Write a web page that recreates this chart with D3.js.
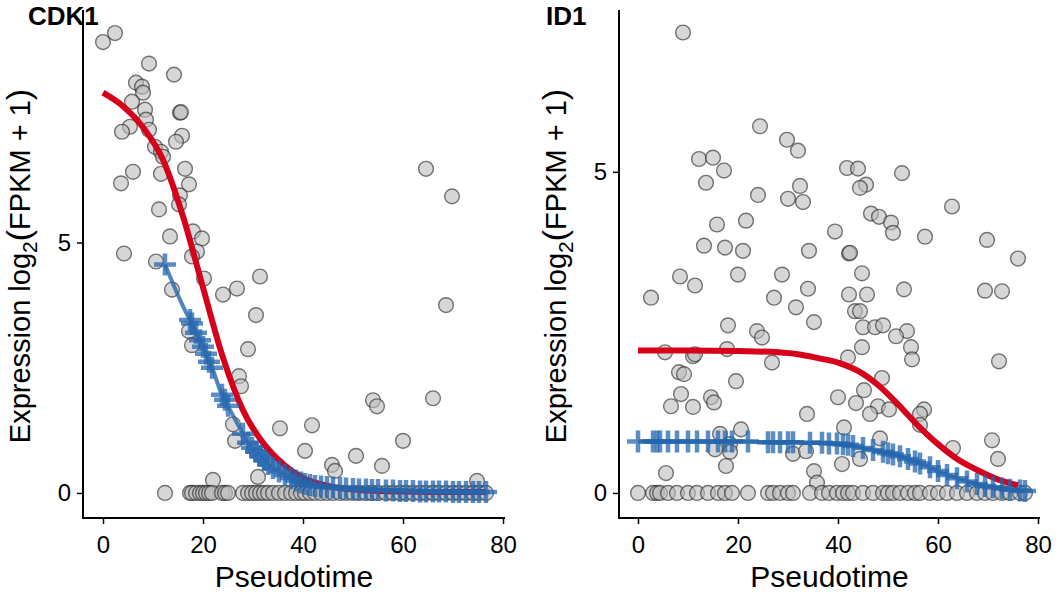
<!DOCTYPE html>
<html>
<head>
<meta charset="utf-8">
<script src="https://d3js.org/d3.v7.min.js"></script>
<style>
  body { margin: 0; background: #fff; }
  text { font-family: "Liberation Sans", Arial, sans-serif; fill: #000; }
</style>
</head>
<body>
<div id="chart"></div>
<script>
// ---- data ----
// CDK1: cells with non-zero expression [pseudotime, log2(FPKM+1)]
var cdk1Points = [[0,9.0],[2.4,9.18],[9.2,8.57],[14.2,8.35],[6.6,8.19],[7.8,8.11],[8.0,7.99],[5.8,7.81],
  [8.4,7.65],[15.4,7.59],[15.6,7.6],[8.6,7.45],[5.4,7.31],[3.8,7.21],[9.2,7.25],[15.8,7.13],[14.6,7.01],
  [10.4,6.91],[11.6,6.81],[12.0,6.71],[6.0,6.41],[16.4,6.47],[3.6,6.18],[11.6,6.37],[17.2,6.16],[15.4,5.94],
  [15.2,5.76],[11.2,5.66],[18.0,5.22],[13.4,5.12],[19.8,5.08],[18.8,4.82],[17.8,4.72],[4.2,4.78],[10.6,4.62],
  [13.8,4.06],[20.2,4.28],[24.0,3.96],[26.8,4.08],[31.4,4.32],[30.6,3.55],[29.0,2.87],[17.2,3.23],[17.8,2.95],
  [27.2,2.33],[27.6,2.13],[35.4,1.29],[26.0,1.37],[26.4,1.04],[31.0,0.32],[22.0,0.26],[41.8,1.35],[40.4,0.84],
  [45.8,0.56],[46.4,0.44],[50.6,0.74],[54.0,1.85],[54.8,1.73],[66.0,1.89],[60.0,1.04],[55.8,0.54],[74.8,0.24],
  [64.6,6.47],[69.8,5.92],[68.6,3.75]];
// CDK1: pseudotime of cells with zero expression, and the blue fitted value at each of them
var cdk1ZeroX = [12.4,17.4,17.8,18.6,19.4,20.0,20.6,21.2,21.8,23.8,24.4,25.0,28.0,29.0,29.8,30.6,31.4,32.2,33.0,
  34.0,35.2,36.4,37.6,38.6,39.6,40.4,41.4,42.4,43.6,44.8,46.0,47.4,48.6,50.0,51.2,52.6,53.8,55.0,56.6,58.0,
  59.4,60.6,62.0,63.4,64.6,66.0,67.2,68.6,70.0,71.2,72.6,74.0,75.2,76.6];
var cdk1FitY = [4.56,3.45,3.38,3.2,3.05,2.92,2.78,2.62,2.5,1.96,1.86,1.74,1.18,1.0,0.9,0.82,0.74,0.66,0.58,
  0.5,0.43,0.36,0.3,0.25,0.21,0.18,0.16,0.14,0.13,0.12,0.11,0.1,0.09,0.08,0.07,0.07,0.06,0.06,0.05,0.05,
  0.04,0.04,0.04,0.03,0.03,0.03,0.03,0.03,0.02,0.02,0.02,0.02,0.02,0.02];
// CDK1: red smooth curve
var cdk1CurveX = [0,4,8,12,16,20,24,28,32,36,40,45,50,60,70,76.6];
var cdk1CurveY = [7.99,7.72,7.3,6.65,5.52,4.1,2.7,1.65,1.0,0.58,0.3,0.14,0.07,0.03,0.02,0.02];

// ID1
var id1Points = [[9.0,7.17],[24.4,5.71],[29.8,5.5],[32.0,5.33],[12.2,5.2],[15.0,5.22],[17.2,5.02],[13.6,4.83],
  [32.4,4.78],[24.0,4.64],[30.0,4.58],[33.0,4.53],[15.8,4.18],[21.6,4.24],[13.2,3.85],[17.4,3.82],[21.0,3.77],
  [34.2,3.77],[8.4,3.37],[11.4,3.23],[20.0,3.4],[28.8,3.4],[34.0,3.18],[2.6,3.04],[27.2,3.04],[39.4,4.07],
  [41.8,5.06],[44.0,5.05],[52.8,4.98],[45.6,4.8],[44.4,4.75],[62.8,4.46],[46.6,4.35],[48.2,4.3],[50.6,4.21],
  [51.0,4.05],[57.4,3.99],[69.8,3.94],[42.2,3.73],[42.4,3.74],[76.0,3.65],[44.8,3.42],[42.2,3.09],[45.8,3.09],
  [53.2,3.17],[69.4,3.15],[72.8,3.14],[31.6,2.89],[35.2,2.66],[18.0,2.61],[23.8,2.52],[24.8,2.42],[5.4,2.19],
  [11.0,2.13],[11.4,2.16],[17.8,2.24],[26.8,2.03],[8.2,1.88],[9.2,1.85],[19.6,1.74],[8.6,1.54],[14.6,1.49],
  [15.2,1.41],[6.6,1.35],[11.0,1.34],[33.8,1.23],[20.6,0.99],[16.4,0.92],[18.4,0.76],[15.4,0.68],[18.4,0.64],
  [31.0,0.61],[33.6,0.65],[17.6,0.42],[5.6,0.31],[35.2,0.34],[35.8,0.16],[43.4,2.83],[44.4,2.83],[45.0,2.58],
  [47.4,2.58],[49.0,2.61],[53.8,2.52],[51.6,2.44],[54.6,2.27],[54.8,2.08],[44.8,2.27],[42.0,2.11],[72.2,2.05],
  [48.8,1.79],[45.2,1.6],[40.0,1.49],[43.6,1.4],[48.0,1.35],[46.4,1.23],[50.2,1.3],[57.2,1.3],[56.4,1.23],
  [56.4,1.06],[41.2,1.02],[48.4,0.85],[70.8,0.82],[63.0,0.7],[72.0,0.53],[44.4,0.53],[40.8,0.45]];
var id1ZeroX = [0,3,3.8,4.4,6,7.8,10,11.8,14,16,17.4,18.8,22,26,27,28.4,30,31,34.4,36.8,38.2,39.8,41,42,43,45,
  47,49,50,51,52.4,54,55.4,56.4,58.4,60,61.8,63.8,65.8,67.8,69.4,71,72.8,74.4,76.4,77.4];
var id1FitY = [0.8,0.8,0.8,0.8,0.8,0.8,0.8,0.8,0.8,0.8,0.8,0.8,0.8,0.79,0.79,0.79,0.79,0.79,0.78,0.78,0.77,0.77,
  0.76,0.75,0.73,0.7,0.67,0.64,0.62,0.6,0.57,0.53,0.49,0.46,0.4,0.34,0.28,0.23,0.18,0.14,0.11,0.09,0.07,0.05,0.04,0.03];
var id1CurveX = [0,10,20,28,32,36,40,44,48,52,56,60,64,68,72,76];
var id1CurveY = [2.22,2.22,2.21,2.19,2.16,2.1,2.03,1.9,1.68,1.38,1.05,0.76,0.52,0.35,0.21,0.12];

var xTicks = [0, 20, 40, 60, 80];
var yTicks = [0, 5];

var svg = d3.select("#chart").append("svg")
  .attr("width", 1062).attr("height", 594);

function drawPanel(p) {
  var x = d3.scaleLinear().domain(p.xDomain).range([p.left, p.right]);
  var y = d3.scaleLinear().domain(p.yDomain).range([p.bottom, p.top]);
  var g = svg.append("g");

  // grey cells (non-zero and zero)
  var cells = p.points.concat(p.zeroX.map(function(v) { return [v, 0]; }));
  g.append("g").selectAll("circle").data(cells).enter().append("circle")
    .attr("cx", function(d) { return x(d[0]); })
    .attr("cy", function(d) { return y(d[1]); })
    .attr("r", 7.4)
    .style("fill", "#bcbcbc").style("fill-opacity", 0.6)
    .style("stroke", "#222").style("stroke-opacity", 0.6).style("stroke-width", 1.4);

  // red curve
  var line = d3.line().x(function(d) { return x(d[0]); }).y(function(d) { return y(d[1]); })
    .curve(d3.curveMonotoneX);
  g.append("path").datum(p.curveX.map(function(v, i) { return [v, p.curveY[i]]; }))
    .attr("d", line).style("fill", "none").style("stroke", "#d7001b").style("stroke-width", 6);

  // blue fitted line with crosses
  var fit = p.zeroX.map(function(v, i) { return [v, p.fitY[i]]; });
  var blue = g.append("g");
  blue.append("path").datum(fit).attr("d", line)
    .style("fill", "none").style("stroke", "#2466ad").style("stroke-width", 4).style("stroke-opacity", 0.8);
  var cr = 11;
  blue.selectAll("path.cross").data(fit).enter().append("path")
    .attr("class", "cross")
    .attr("d", function(d) {
      var cx = x(d[0]), cy = y(d[1]);
      return "M" + (cx - cr) + "," + cy + "H" + (cx + cr) + "M" + cx + "," + (cy - cr) + "V" + (cy + cr);
    })
    .style("stroke", "#2466ad").style("stroke-width", 4.5).style("stroke-opacity", 0.75).style("fill", "none");

  // axes
  var xa = g.append("g").attr("transform", "translate(0," + p.bottom + ")")
    .call(d3.axisBottom(x).tickValues(xTicks).tickSize(6).tickPadding(8));
  var ya = g.append("g").attr("transform", "translate(" + p.left + ",0)")
    .call(d3.axisLeft(y).tickValues(yTicks).tickSize(6).tickPadding(6));
  [xa, ya].forEach(function(a) {
    a.select(".domain").attr("d", null);
    a.selectAll(".tick line").style("stroke", "#000").style("stroke-width", 1.5);
    a.selectAll(".tick text").style("font-size", "24px").style("fill", "#000")
      .style("font-family", "'Liberation Sans', Arial, sans-serif");
  });
  xa.selectAll(".tick text").attr("dy", "0.88em");
  // axis lines (L shape)
  g.append("path")
    .attr("d", "M" + p.left + "," + p.top + "V" + p.bottom + "H" + p.right)
    .style("fill", "none").style("stroke", "#000").style("stroke-width", 2);

  // titles
  g.append("text").attr("x", p.titleX).attr("y", 25).text(p.title)
    .style("font-size", "26px").style("font-weight", "bold");
  g.append("text").attr("x", (p.left + p.right) / 2).attr("y", 587)
    .attr("text-anchor", "middle").style("font-size", "30px").text("Pseudotime");
  var yl = g.append("text")
    .attr("transform", "translate(" + p.ylabX + "," + ((p.top + p.bottom) / 2 + 2) + ") rotate(-90)")
    .attr("text-anchor", "middle").style("font-size", "29px");
  yl.append("tspan").text("Expression log");
  yl.append("tspan").attr("dy", 7).style("font-size", "21px").text("2");
  yl.append("tspan").attr("dy", -7).style("font-size", "34px").text("(");
  yl.append("tspan").text("FPKM + 1");
  yl.append("tspan").style("font-size", "34px").text(")");
}

drawPanel({
  title: "CDK1", titleX: 28, ylabX: 30,
  left: 83, right: 505, top: 10, bottom: 518,
  xDomain: [-4, 80.4], yDomain: [-0.5, 9.64],
  points: cdk1Points, zeroX: cdk1ZeroX, fitY: cdk1FitY,
  curveX: cdk1CurveX, curveY: cdk1CurveY
});
drawPanel({
  title: "ID1", titleX: 546, ylabX: 566,
  left: 619, right: 1040, top: 10, bottom: 518,
  xDomain: [-3.8, 80.4], yDomain: [-0.39, 7.52],
  points: id1Points, zeroX: id1ZeroX, fitY: id1FitY,
  curveX: id1CurveX, curveY: id1CurveY
});
</script>
</body>
</html>
